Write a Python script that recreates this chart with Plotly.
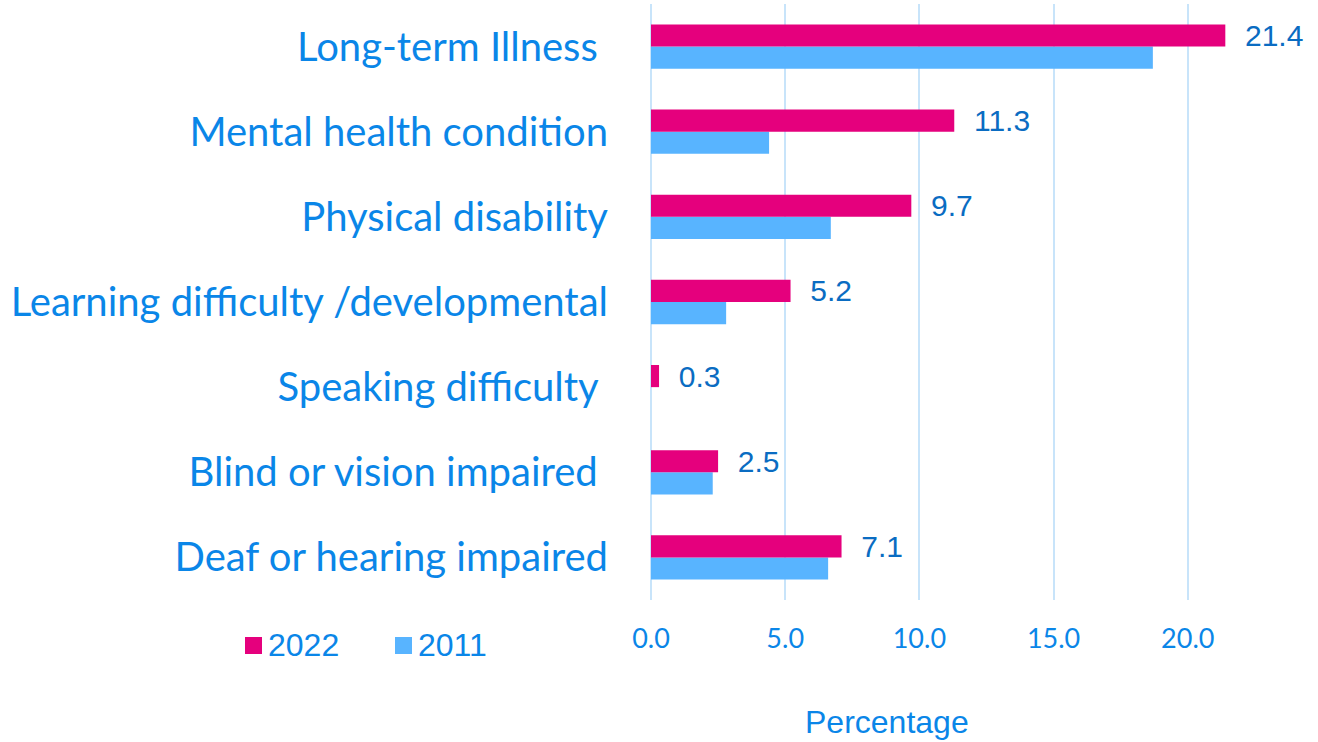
import plotly.graph_objects as go

categories = [
    "Long-term Illness\u00a0",
    "Mental health condition",
    "Physical disability",
    "Learning difficulty /developmental",
    "Speaking difficulty\u00a0",
    "Blind or vision impaired\u00a0",
    "Deaf or hearing impaired",
]
values_2022 = [21.4, 11.3, 9.7, 5.2, 0.3, 2.5, 7.1]
values_2011 = [18.7, 4.4, 6.7, 2.8, 0.0, 2.3, 6.6]
tick_vals = [0, 5, 10, 15, 20]
tick_text = ["0.0", "5.0", "10.0", "15.0", "20.0"]

C2022 = "#E5007D"
C2011 = "#58B4FF"
LABEL_BLUE = "#0A86E8"
DATA_BLUE = "#0A6CC2"

fig = go.Figure()
fig.add_trace(go.Bar(
    y=categories, x=values_2011, name="2011", orientation="h",
    marker=dict(color=C2011, line=dict(width=0)),
))
fig.add_trace(go.Bar(
    y=categories, x=values_2022, name="2022", orientation="h",
    marker=dict(color=C2022, line=dict(width=0)),
    text=[f"{v:.1f}" for v in values_2022],
    texttemplate="  %{text}",
    textposition="outside",
    constraintext="none",
    textfont=dict(family="Liberation Sans, Arial", size=30, color=DATA_BLUE),
    cliponaxis=False,
))

fig.update_layout(
    width=1318, height=742,
    margin=dict(l=651, r=90, t=4, b=142, autoexpand=False),
    paper_bgcolor="white", plot_bgcolor="white",
    barmode="group", bargap=0.48, bargroupgap=0,
    showlegend=False,
)
fig.update_xaxes(
    range=[0, 21.5], tickvals=tick_vals, ticktext=tick_text,
    showgrid=True, gridcolor="#C8E4FA", gridwidth=1.5,
    zeroline=True, zerolinecolor="#C8E4FA", zerolinewidth=1.5,
    showline=False, automargin=False,
    tickfont=dict(family="Lato", size=27, color=LABEL_BLUE),
    ticklabelstandoff=20,
)
fig.update_yaxes(
    categoryorder="array", categoryarray=categories[::-1],
    tickfont=dict(family="Lato", size=40, color=LABEL_BLUE),
    showgrid=False, showline=False, zeroline=False, automargin=False,
    ticklabelstandoff=42,
)

legend_items = [("2022", C2022, 245), ("2011", C2011, 395)]
for name, col, px in legend_items:
    fig.add_shape(type="rect", xref="paper", yref="paper",
                  x0=(px - 651) / 577, x1=(px + 17 - 651) / 577,
                  y0=-(654 - 600) / 596, y1=-(637 - 600) / 596,
                  fillcolor=col, line=dict(width=0))
    fig.add_annotation(text=name, xref="paper", yref="paper",
                       x=(px + 21 - 651) / 577, y=-(645 - 600) / 596,
                       xanchor="left", yanchor="middle", showarrow=False,
                       font=dict(family="Liberation Sans, Arial", size=32, color=LABEL_BLUE))

fig.add_annotation(text="Percentage", xref="paper", yref="paper",
                   x=(887 - 651) / 577, y=-(722 - 600) / 596,
                   xanchor="center", yanchor="middle", showarrow=False,
                   font=dict(family="Liberation Sans, Arial", size=32, color=LABEL_BLUE))

fig.write_html("out.html", config={"displayModeBar": False},
               post_script="document.body.style.margin='0';")
